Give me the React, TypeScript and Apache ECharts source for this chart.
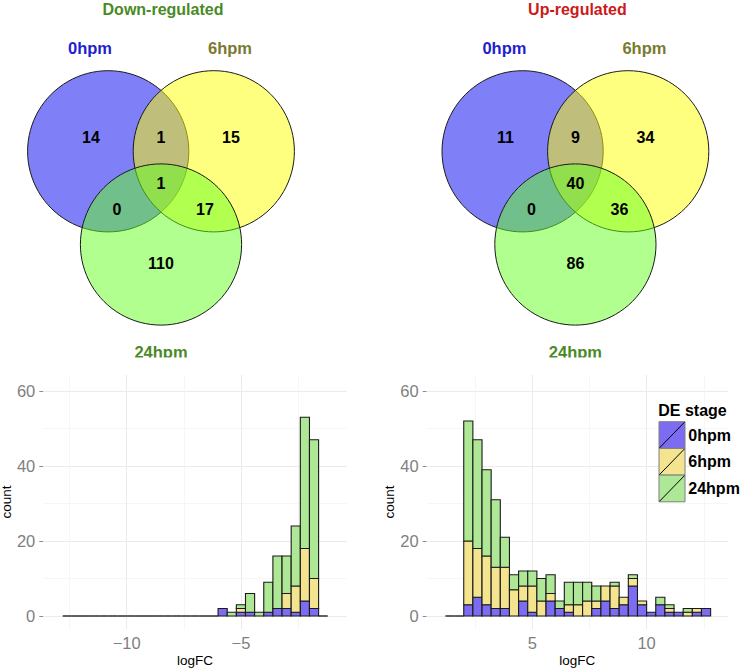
import React, { useEffect, useRef } from "react";
import * as echarts from "echarts";

// ---------- data ----------
const stages = ["0hpm", "6hpm", "24hpm"];
const stageFill = ["#7b6cf2", "#f4e48f", "#aee897"];

const binWidth = 0.4;

const downBinStart = -12.8;
const down0hpm = [0, 0, 0, 0, 0, 0, 0, 0, 0, 0, 0, 0, 0, 0, 0, 0, 0, 2, 0, 1, 1, 0, 1, 2, 2, 1, 4, 2, 0];
const down6hpm = [0, 0, 0, 0, 0, 0, 0, 0, 0, 0, 0, 0, 0, 0, 0, 0, 0, 0, 0, 1, 0, 0, 0, 0, 4, 7, 14, 8, 0];
const down24hpm = [0, 0, 0, 0, 0, 0, 0, 0, 0, 0, 0, 0, 0, 0, 0, 0, 0, 0, 1, 1, 5, 1, 8, 14, 10, 16, 35, 37, 0];

const upBinStart = 1.2;
const up0hpm = [0, 0, 3, 5, 3, 2, 2, 0, 4, 1, 0, 4, 2, 1, 0, 0, 2, 4, 2, 3, 8, 3, 1, 3, 1, 1, 0, 1, 2];
const up6hpm = [0, 0, 17, 13, 13, 11, 11, 7, 4, 7, 4, 2, 0, 2, 3, 4, 2, 4, 6, 2, 2, 1, 0, 0, 1, 0, 1, 1, 0];
const up24hpm = [0, 0, 32, 29, 23, 18, 8, 4, 4, 4, 6, 5, 2, 6, 6, 5, 4, 0, 1, 0, 1, 0, 0, 2, 1, 0, 1, 0, 0];

const yTicks = [0, 20, 40, 60];
const yMinorGrid = [10, 30, 50];
const downXTicks = [-10, -5];
const downXMinorGrid = [-12.5, -7.5, -2.5];
const upXTicks = [5, 10];
const upXMinorGrid = [2.5, 7.5, 12.5];

// Venn regions: 0hpm only, 0hpm&6hpm, 6hpm only, all three, 0hpm&24hpm, 6hpm&24hpm, 24hpm only
const downVennCounts = [14, 1, 15, 1, 0, 17, 110];
const upVennCounts = [11, 9, 34, 40, 0, 36, 86];
const vennTitles = ["Down-regulated", "Up-regulated"];

// ---------- styling ----------
const FONT = "'Liberation Sans', Arial, Helvetica, sans-serif";
const stageLabelColors = ["#1f1fd0", "#7a7a30", "#4a8a26"];
const titleColors = ["#4a8a26", "#cc1a1a"];
const vennCircleFill = ["rgba(0,0,240,0.5)", "rgba(255,255,0,0.5)", "rgba(99,255,29,0.5)"];
const regionOffsets = [
  [-70, 137],
  [0, 137],
  [70, 137],
  [0, 183],
  [-44, 209],
  [44, 209],
  [0, 263],
];

function buildBins(start: number, a: number[], b: number[], c: number[]) {
  return a.map((v, i) => [start + i * binWidth, start + (i + 1) * binWidth, v, b[i], c[i]]);
}

function renderStack(params: any, api: any) {
  const x0 = api.value(0);
  const x1 = api.value(1);
  const vals = [api.value(2), api.value(3), api.value(4)];
  const total = vals[0] + vals[1] + vals[2];
  const children: any[] = [];
  if (total === 0) {
    const p0 = api.coord([x0, 0]);
    const p1 = api.coord([x1, 0]);
    children.push({
      type: "line",
      shape: { x1: p0[0], y1: p0[1], x2: p1[0], y2: p1[1] },
      style: { stroke: "#111", lineWidth: 1.3 },
    });
  } else {
    let acc = 0;
    for (let i = 0; i < 3; i++) {
      if (vals[i] <= 0) continue;
      const p0 = api.coord([x0, acc]);
      const p1 = api.coord([x1, acc + vals[i]]);
      children.push({
        type: "rect",
        shape: { x: p0[0], y: p1[1], width: p1[0] - p0[0], height: p0[1] - p1[1] },
        style: { fill: stageFill[i], stroke: "#1a1a1a", lineWidth: 1.1 },
      });
      acc += vals[i];
    }
  }
  return { type: "group", children };
}

function gridLineSeries(idx: number, xMajor: number[], xMinor: number[]) {
  const major = { color: "#ebebeb", width: 1, type: "solid" };
  const minor = { color: "#f4f4f4", width: 0.8, type: "solid" };
  return {
    type: "scatter",
    xAxisIndex: idx,
    yAxisIndex: idx,
    data: [],
    silent: true,
    z: 0,
    markLine: {
      silent: true,
      symbol: ["none", "none"],
      label: { show: false },
      animation: false,
      data: [
        ...yTicks.map((v) => ({ yAxis: v, lineStyle: major })),
        ...yMinorGrid.map((v) => ({ yAxis: v, lineStyle: minor })),
        ...xMajor.map((v) => ({ xAxis: v, lineStyle: major })),
        ...xMinor.map((v) => ({ xAxis: v, lineStyle: minor })),
      ],
    },
  };
}

function xAxisFor(idx: number, min: number, max: number, ticks: number[]) {
  return {
    type: "value",
    gridIndex: idx,
    min,
    max,
    name: "logFC",
    nameLocation: "middle",
    nameGap: 24,
    nameTextStyle: { color: "#000", fontSize: 13.5, fontFamily: FONT },
    axisLine: { show: false },
    splitLine: { show: false },
    axisTick: { show: true, length: 4, customValues: ticks, lineStyle: { color: "#8c8c8c" } },
    axisLabel: {
      customValues: ticks,
      color: "#808080",
      fontSize: 16.5,
      fontFamily: FONT,
      margin: 5,
      formatter: (v: number) => (v < 0 ? "\u2212" + Math.abs(v) : String(v)),
    },
  };
}

function yAxisFor(idx: number) {
  return {
    type: "value",
    gridIndex: idx,
    min: -3.47,
    max: 64.27,
    name: "count",
    nameLocation: "middle",
    nameRotate: 90,
    nameGap: 30,
    nameTextStyle: { color: "#000", fontSize: 13.5, fontFamily: FONT },
    axisLine: { show: false },
    splitLine: { show: false },
    axisTick: { show: true, length: 4, customValues: yTicks, lineStyle: { color: "#8c8c8c" } },
    axisLabel: { customValues: yTicks, color: "#808080", fontSize: 16.5, fontFamily: FONT, margin: 8 },
  };
}

function vennGraphics(cx: number, counts: number[], k: number) {
  const cy = 151.3;
  const r = 80.6;
  const els: any[] = [];
  const centers = [
    [cx - 52.8, cy],
    [cx + 52.8, cy],
    [cx, 244.5],
  ];
  centers.forEach((c, i) => {
    els.push({
      type: "circle",
      shape: { cx: c[0], cy: c[1], r },
      style: { fill: vennCircleFill[i], stroke: "#1a1a1a", lineWidth: 1 },
      z: 10 + i,
      silent: true,
    });
  });
  counts.forEach((n, i) => {
    els.push({
      type: "text",
      x: cx + regionOffsets[i][0],
      y: cy - 151.3 + regionOffsets[i][1],
      style: {
        text: String(n),
        fill: "#000",
        font: `bold 16px ${FONT}`,
        textAlign: "center",
        textVerticalAlign: "middle",
      },
      z: 20,
      silent: true,
    });
  });
  els.push({
    type: "text",
    x: cx + 2,
    y: 9.5,
    style: { text: vennTitles[k], fill: titleColors[k], font: `bold 16px ${FONT}`, textAlign: "center", textVerticalAlign: "middle" },
    z: 20,
  });
  const labelPos = [
    [cx - 71, 47.5],
    [cx + 69, 47.5],
    [cx, 351.5],
  ];
  stages.forEach((s, i) => {
    els.push({
      type: "text",
      x: labelPos[i][0],
      y: labelPos[i][1],
      style: { text: s, fill: stageLabelColors[i], font: `bold 16.5px ${FONT}`, textAlign: "center", textVerticalAlign: "middle" },
      z: 20,
    });
  });
  // the bottom of the lower label is hidden by the panel below it
  els.push({
    type: "rect",
    shape: { x: cx - 40, y: 357.5, width: 80, height: 8 },
    style: { fill: "#fff" },
    z: 30,
    silent: true,
  });
  return els;
}

function legendGraphics() {
  const els: any[] = [];
  const x = 659;
  const w = 26;
  const h = 26.7;
  const top = 421.7;
  els.push({
    type: "text",
    x: 658.3,
    y: 410.7,
    style: { text: "DE stage", fill: "#000", font: `bold 16px ${FONT}`, textAlign: "left", textVerticalAlign: "middle" },
    z: 40,
  });
  stages.forEach((s, i) => {
    const y = top + i * h;
    els.push({
      type: "rect",
      shape: { x, y, width: w, height: h },
      style: { fill: stageFill[i], stroke: "#7f7f7f", lineWidth: 1 },
      z: 40,
    });
    els.push({
      type: "line",
      shape: { x1: x + 0.5, y1: y + h - 0.5, x2: x + w - 0.5, y2: y + 0.5 },
      style: { stroke: "#000", lineWidth: 1 },
      z: 41,
    });
    els.push({
      type: "text",
      x: 688.3,
      y: y + h / 2,
      style: { text: s, fill: "#000", font: `bold 16px ${FONT}`, textAlign: "left", textVerticalAlign: "middle" },
      z: 41,
    });
  });
  return els;
}

export default function App() {
  const ref = useRef<HTMLDivElement>(null);
  useEffect(() => {
    if (!ref.current) return;
    const chart = echarts.init(ref.current, undefined, { renderer: "svg" });
    const option: any = {
      animation: false,
      backgroundColor: "#ffffff",
      textStyle: { fontFamily: FONT },
      grid: [
        { left: 43.3, top: 375, width: 303.4, height: 254, outerBoundsMode: "none" },
        { left: 426.7, top: 375, width: 301.3, height: 254, outerBoundsMode: "none" },
      ],
      xAxis: [xAxisFor(0, -13.65, -0.37, downXTicks), xAxisFor(1, 0.38, 13.56, upXTicks)],
      yAxis: [yAxisFor(0), yAxisFor(1)],
      series: [
        gridLineSeries(0, downXTicks, downXMinorGrid),
        gridLineSeries(1, upXTicks, upXMinorGrid),
        {
          type: "custom",
          name: "down",
          xAxisIndex: 0,
          yAxisIndex: 0,
          z: 5,
          renderItem: renderStack,
          data: buildBins(downBinStart, down0hpm, down6hpm, down24hpm),
          encode: { x: [0, 1], y: [2] },
        },
        {
          type: "custom",
          name: "up",
          xAxisIndex: 1,
          yAxisIndex: 1,
          z: 5,
          renderItem: renderStack,
          data: buildBins(upBinStart, up0hpm, up6hpm, up24hpm),
          encode: { x: [0, 1], y: [2] },
        },
      ],
      graphic: [...vennGraphics(161, downVennCounts, 0), ...vennGraphics(575.4, upVennCounts, 1), ...legendGraphics()],
    };
    chart.setOption(option);
    return () => chart.dispose();
  }, []);
  return (
    <div
      ref={ref}
      style={{ position: "absolute", left: 0, top: 0, width: 741, height: 669, background: "#fff" }}
    />
  );
}
